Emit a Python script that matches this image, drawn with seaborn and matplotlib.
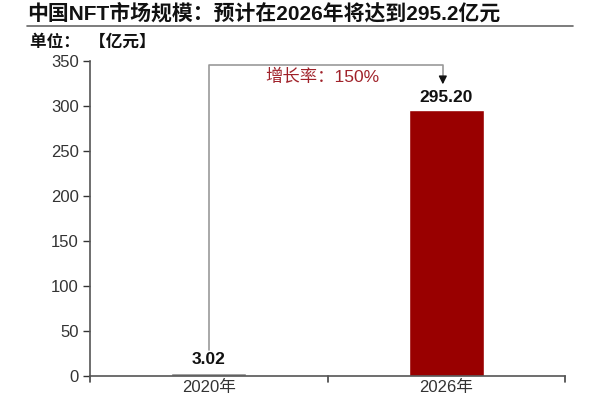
import matplotlib
matplotlib.use("Agg")
import matplotlib.pyplot as plt
import seaborn as sns
import pandas as pd

years = ["2020年", "2026年"]
values = [3.02, 295.20]
labels = ["3.02", "295.20"]
colors = ["#8c8c8c", "#990000"]
yticks = [0, 50, 100, 150, 200, 250, 300, 350]

sns.set_style("white")
FAM = ['Liberation Sans', 'Noto Sans CJK SC', 'DejaVu Sans']
plt.rcParams['font.family'] = FAM

df = pd.DataFrame({"year": years, "value": values})

fig = plt.figure(figsize=(6, 4), dpi=100)
ax = fig.add_axes([0.15, 0.06, 0.792, 0.7875])
sns.barplot(data=df, x="year", y="value", hue="year", palette=colors,
            width=0.315, legend=False, ax=ax, saturation=1)

ax.set_ylim(0, 350)
ax.set_xlim(-0.5, 1.5)
ax.set_yticks(yticks)
ax.set_xticks([0, 1])
ax.set_xticklabels(years, fontsize=12, color="#333333")
ax.tick_params(axis="y", labelsize=12, colors="#333333", length=5, width=1, direction="out", left=True, pad=3)
ax.tick_params(axis="x", length=0, pad=3)
for xb in [-0.5, 0.5, 1.5]:
    ax.plot([xb, xb], [0, -0.018], transform=ax.get_xaxis_transform(), color="#444444", lw=1.2, clip_on=False)
ax.set_xlabel("")
ax.set_ylabel("")
for s in ["top", "right"]:
    ax.spines[s].set_visible(False)
for s in ["left", "bottom"]:
    ax.spines[s].set_color("#555555")
    ax.spines[s].set_linewidth(1.2)

# value labels
label_y = [18, 310]
for i, t in enumerate(labels):
    ax.text(i, label_y[i], t, ha="center", va="center", fontsize=12.5, fontweight="bold", color="#111111")

# growth bracket
ax.plot([0, 0, 0.985, 0.985], [29, 345.5, 345.5, 330], color="#999999", lw=1.2)
ax.annotate("", xy=(0.985, 321), xytext=(0.985, 332),
            arrowprops=dict(arrowstyle="-|>", color="#111111", lw=1, mutation_scale=12))
ax.text(0.48, 332, "增长率：150%", ha="center", va="center", fontsize=12.5, color="#a0222a")

# title and unit
fig.text(0.045, 0.967, "中国NFT市场规模：预计在2026年将达到295.2亿元", fontsize=15,
         fontweight="bold", ha="left", va="center", color="#111111")
fig.add_artist(plt.Line2D([0.045, 0.955], [0.935, 0.935], color="#666666", lw=1.2, transform=fig.transFigure))
fig.text(0.05, 0.895, "单位：  【亿元】", fontsize=12, fontweight="bold", ha="left", va="center", color="#111111")

fig.savefig("out.png", dpi=100)
